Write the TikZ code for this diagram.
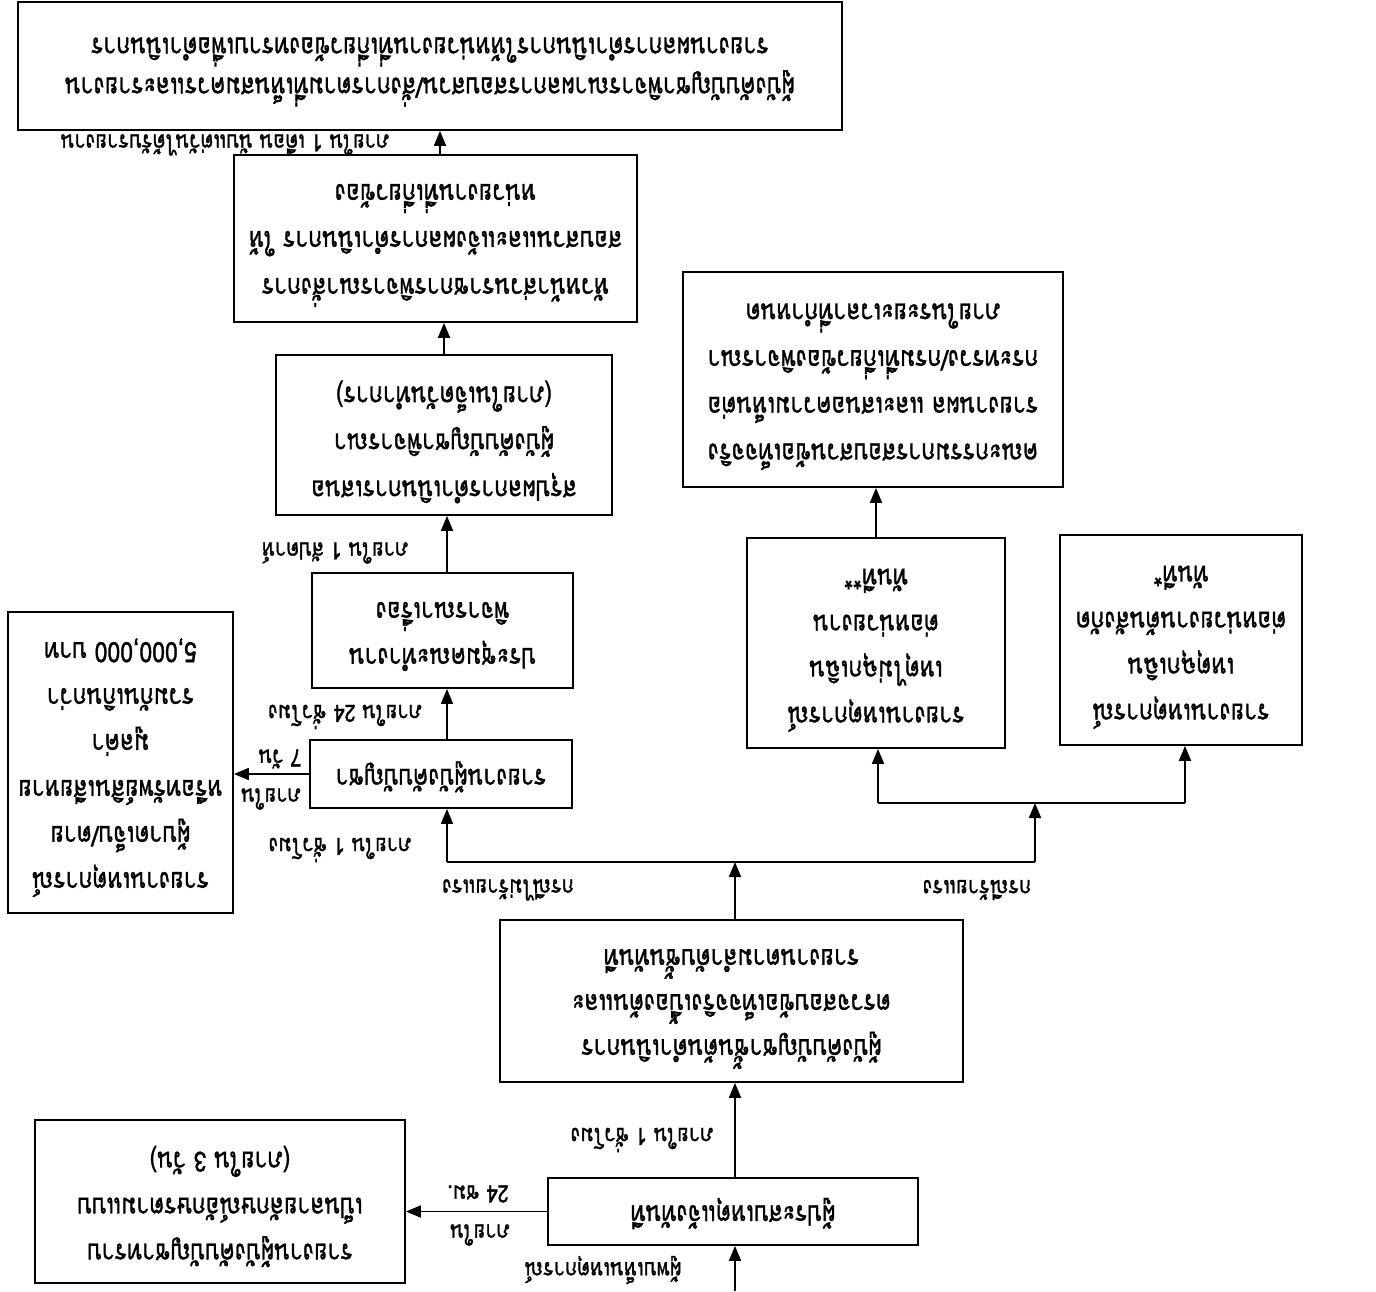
\documentclass[tikz,border=0pt]{standalone}
\usepackage{fontspec}
\newfontfamily\thai[Script=Thai,FakeBold=1.4]{Loma}
\usetikzlibrary{arrows.meta}
\begin{document}
\begin{tikzpicture}[x=1pt,y=-1pt,
  box/.style={draw=black,line width=1.8pt,inner sep=0pt},
  txt/.style={rotate=180,yscale=1.22,align=center,inner sep=0pt,font=\thai\fontsize{23}{37.7}\selectfont},
  lbl/.style={rotate=180,yscale=1.18,inner sep=0pt,font=\thai\fontsize{20}{22}\selectfont},
  conn/.style={line width=1.8pt},
  arr/.style={line width=1.8pt,-{Triangle[length=15pt,width=12pt]}}]
\useasboundingbox (0,0) rectangle (1376,1291);
\fill[white] (0,0) rectangle (1376,1291);
% boxes
\node[box,minimum width=824pt,minimum height=128pt] (T1) at (430,66) {};
\node[box,minimum width=403pt,minimum height=167pt] (T2) at (435.5,238.5) {};
\node[box,minimum width=336pt,minimum height=160pt] (T3) at (444,435) {};
\node[box,minimum width=261pt,minimum height=115pt] (T4) at (442.5,630.5) {};
\node[box,minimum width=262pt,minimum height=68pt] (T5) at (441,774) {};
\node[box,minimum width=225pt,minimum height=301pt] (L1) at (120.5,762.5) {};
\node[box,minimum width=380pt,minimum height=215pt] (R3) at (873,379.5) {};
\node[box,minimum width=258pt,minimum height=210pt] (R1) at (876,643) {};
\node[box,minimum width=242pt,minimum height=210pt] (R2) at (1181,640) {};
\node[box,minimum width=463pt,minimum height=162pt] (T6) at (731.5,1001) {};
\node[box,minimum width=370pt,minimum height=67pt] (T7) at (733,1211.5) {};
\node[box,minimum width=370pt,minimum height=163pt] (L2) at (220,1201.5) {};
% box texts
\node[txt,font=\thai\fontsize{23}{32.8}\selectfont] (T1t) at ([yshift=-6pt]T1.center) {ผู้บังคับบัญชาพิจารณาผลการสอบสวน/สั่งการตามที่เห็นสมควรและรายงาน\\รายงานผลการดำเนินการให้หน่วยงานที่เกี่ยวข้องทราบเพื่อดำเนินการ};
\node[txt,font=\thai\fontsize{23}{38.5}\selectfont] (T2t) at ([yshift=-7pt]T2.center) {หัวหน้าส่วนราชการพิจารณาสั่งการ\\สอบสวนและแจ้งผลการดำเนินการ ให้\\หน่วยงานที่เกี่ยวข้อง};
\node[txt,font=\thai\fontsize{23}{38.5}\selectfont] (T3t) at ([yshift=-7pt]T3.center) {สรุปผลการดำเนินการเสนอ\\ผู้บังคับบัญชาพิจารณา\\(ภายในเจ็ดวันทำการ)};
\node[txt] (T4t) at ([yshift=-6pt]T4.center) {ประชุมคณะทำงาน\\พิจารณาเรื่อง};
\node[txt] (T5t) at ([yshift=-3pt]T5.center) {รายงานผู้บังคับบัญชา};
\node[txt] (L1t) at ([yshift=-5pt]L1.center) {รายงานเหตุการณ์\\ผู้บาดเจ็บ/ตาย\\หรือทรัพย์สินเสียหาย\\มูลค่า\\รวมกันเกินกว่า\\5,000,000 บาท};
\node[txt,font=\thai\fontsize{23}{38.3}\selectfont] (R3t) at ([yshift=-7pt]R3.center) {คณะกรรมการสอบสวนข้อเท็จจริง\\รายงานผล และเสนอความเห็นต่อ\\กระทรวง/กรมที่เกี่ยวข้องพิจารณา\\ภายในระยะเวลาที่กำหนด};
\node[txt] (R1t) at ([yshift=-7pt]R1.center) {รายงานเหตุการณ์\\เหตุไม่ฉุกเฉิน\\ต่อหน่วยงาน\\ทันที**};
\node[txt] (R2t) at ([yshift=-7pt]R2.center) {รายงานเหตุการณ์\\เหตุฉุกเฉิน\\ต่อหน่วยงานต้นสังกัด\\ทันที*};
\node[txt,font=\thai\fontsize{23}{36.9}\selectfont] (T6t) at ([yshift=-8pt]T6.center) {ผู้บังคับบัญชาชั้นต้นดำเนินการ\\ตรวจสอบข้อเท็จจริงเบื้องต้นและ\\รายงานตามลำดับชั้นทันที};
\node[txt] (T7t) at ([yshift=-2pt]T7.center) {ผู้ประสบเหตุแจ้งทันที};
\node[txt] (L2t) at ([yshift=-5pt]L2.center) {รายงานผู้บังคับบัญชาทราบ\\เป็นลายลักษณ์อักษรตามแบบ\\(ภายใน 3 วัน)};
% connector points
\coordinate (jL) at (447,862);
\coordinate (jC) at (735,862);
\coordinate (jR) at (1035,862);
\coordinate (jR2) at (1035,803);
\coordinate (k1) at (878,803);
\coordinate (k2) at (1185,803);
\coordinate (in) at (735,1291);
% connectors
\draw[arr] (T2.north -| 440,0) -- (440,0 |- T1.south);
\draw[arr] (T3.north) -- (T3.north |- T2.south);
\draw[arr] (T4.north -| jL) -- (jL |- T3.south);
\draw[arr] (T5.north -| jL) -- (jL |- T4.south);
\draw[arr] (T5.west) -- (T5.west -| L1.east);
\draw[conn] (jL) -- (jR);
\draw[arr] (jL) -- (jL |- T5.south);
\draw[arr] (T6.north -| jC) -- (jC);
\draw[arr] (jR) -- (jR2);
\draw[conn] (k1) -- (k2);
\draw[arr] (k1) -- (k1 |- R1.south);
\draw[arr] (k2) -- (k2 |- R2.south);
\draw[arr] (R1.north) -- (R1.north |- R3.south);
\draw[arr] (T7.north -| jC) -- (jC |- T6.south);
\draw[arr] (T7.west) -- (T7.west -| L2.east);
\draw[arr] (in) -- (in |- T7.south);
% labels
\node[lbl] (lbTop) at (225,145) {ภายใน 1 เดือน นับแต่วันได้รับรายงาน};
\node[lbl] (lbWk) at (335,553) {ภายใน 1 สัปดาห์};
\node[lbl] (lb24) at (345,717) {ภายใน 24 ชั่วโมง};
\node[lbl] (lb7a) at (280,759) {7 วัน};
\node[lbl] (lb7b) at (271,799) {ภายใน};
\node[lbl] (lb1a) at (340,850) {ภายใน 1 ชั่วโมง};
\node[lbl] (lbBrL) at (508,890) {กรณีไม่ร้ายแรง};
\node[lbl] (lbBrR) at (977,890) {กรณีร้ายแรง};
\node[lbl] (lb1b) at (642,1140) {ภายใน 1 ชั่วโมง};
\node[lbl] (lb24a) at (478,1194) {24 ชม.};
\node[lbl] (lb24b) at (480,1235) {ภายใน};
\node[lbl] (lbIn) at (603,1270) {ผู้พบเห็นเหตุการณ์};
\end{tikzpicture}
\end{document}
